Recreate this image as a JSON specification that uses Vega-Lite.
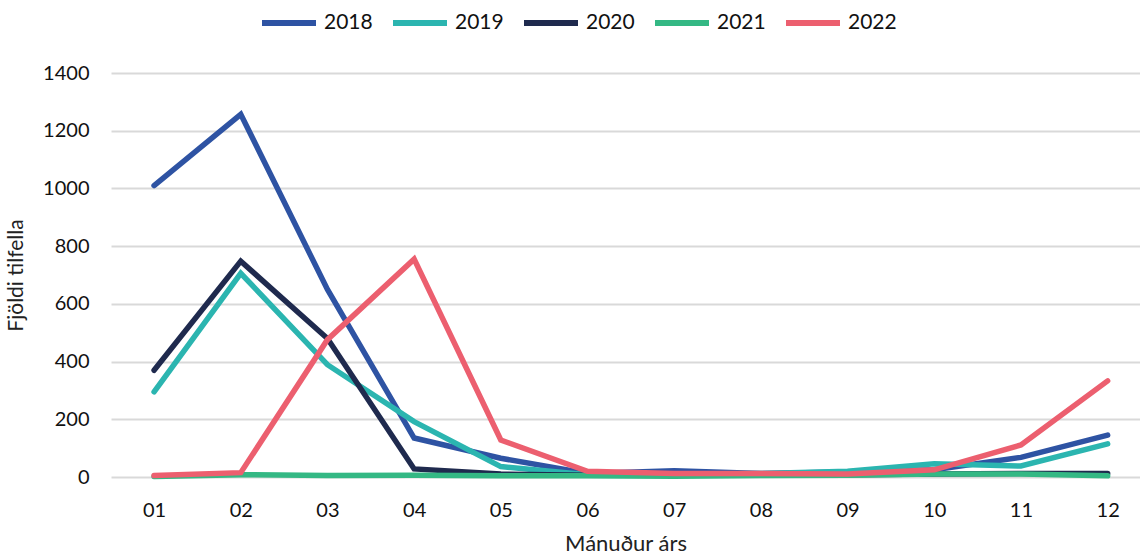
{
  "$schema": "https://vega.github.io/schema/vega-lite/v6.json",
  "width": 1140,
  "height": 554,
  "autosize": {"type": "fit", "contains": "padding"},
  "padding": {"left": 5, "top": 63, "right": 0, "bottom": 0},
  "background": "white",
  "config": {
    "font": "Lato",
    "view": {"stroke": null}
  },
  "data": {
    "values": [
      {"m": "01", "year": "2018", "v": 1010}, {"m": "02", "year": "2018", "v": 1257}, {"m": "03", "year": "2018", "v": 650}, {"m": "04", "year": "2018", "v": 135}, {"m": "05", "year": "2018", "v": 65}, {"m": "06", "year": "2018", "v": 12}, {"m": "07", "year": "2018", "v": 22}, {"m": "08", "year": "2018", "v": 12}, {"m": "09", "year": "2018", "v": 17}, {"m": "10", "year": "2018", "v": 25}, {"m": "11", "year": "2018", "v": 68}, {"m": "12", "year": "2018", "v": 145},
      {"m": "01", "year": "2019", "v": 295}, {"m": "02", "year": "2019", "v": 706}, {"m": "03", "year": "2019", "v": 389}, {"m": "04", "year": "2019", "v": 192}, {"m": "05", "year": "2019", "v": 36}, {"m": "06", "year": "2019", "v": 8}, {"m": "07", "year": "2019", "v": 10}, {"m": "08", "year": "2019", "v": 12}, {"m": "09", "year": "2019", "v": 20}, {"m": "10", "year": "2019", "v": 46}, {"m": "11", "year": "2019", "v": 38}, {"m": "12", "year": "2019", "v": 115},
      {"m": "01", "year": "2020", "v": 370}, {"m": "02", "year": "2020", "v": 748}, {"m": "03", "year": "2020", "v": 480}, {"m": "04", "year": "2020", "v": 28}, {"m": "05", "year": "2020", "v": 10}, {"m": "06", "year": "2020", "v": 6}, {"m": "07", "year": "2020", "v": 6}, {"m": "08", "year": "2020", "v": 6}, {"m": "09", "year": "2020", "v": 8}, {"m": "10", "year": "2020", "v": 10}, {"m": "11", "year": "2020", "v": 12}, {"m": "12", "year": "2020", "v": 12},
      {"m": "01", "year": "2021", "v": 2}, {"m": "02", "year": "2021", "v": 8}, {"m": "03", "year": "2021", "v": 5}, {"m": "04", "year": "2021", "v": 6}, {"m": "05", "year": "2021", "v": 4}, {"m": "06", "year": "2021", "v": 4}, {"m": "07", "year": "2021", "v": 3}, {"m": "08", "year": "2021", "v": 5}, {"m": "09", "year": "2021", "v": 6}, {"m": "10", "year": "2021", "v": 10}, {"m": "11", "year": "2021", "v": 10}, {"m": "12", "year": "2021", "v": 4},
      {"m": "01", "year": "2022", "v": 5}, {"m": "02", "year": "2022", "v": 15}, {"m": "03", "year": "2022", "v": 476}, {"m": "04", "year": "2022", "v": 755}, {"m": "05", "year": "2022", "v": 128}, {"m": "06", "year": "2022", "v": 20}, {"m": "07", "year": "2022", "v": 12}, {"m": "08", "year": "2022", "v": 12}, {"m": "09", "year": "2022", "v": 10}, {"m": "10", "year": "2022", "v": 25}, {"m": "11", "year": "2022", "v": 111}, {"m": "12", "year": "2022", "v": 333}
    ]
  },
  "mark": {"type": "line", "strokeWidth": 5.5, "strokeCap": "round", "strokeJoin": "miter"},
  "encoding": {
    "x": {
      "field": "m", "type": "ordinal",
      "scale": {"type": "point", "padding": 0.435, "align": 0.571},
      "axis": {
        "title": "Mánuður árs", "titleFontSize": 22, "titleFontWeight": "normal", "titleColor": "#222", "titlePadding": 13,
        "labelFontSize": 20, "labelColor": "#111", "labelAngle": 0, "labelPadding": 23,
        "domain": false, "ticks": false, "grid": false
      }
    },
    "y": {
      "field": "v", "type": "quantitative",
      "scale": {"domain": [0, 1400], "nice": false},
      "axis": {
        "title": "Fjöldi tilfella", "titleFontSize": 21, "titleFontWeight": "normal", "titleColor": "#222", "titlePadding": 16,
        "values": [0, 200, 400, 600, 800, 1000, 1200, 1400], "format": "d",
        "labelFontSize": 20, "labelColor": "#111", "labelPadding": 22,
        "domain": false, "ticks": false,
        "grid": true, "gridColor": "#D9D9D9", "gridWidth": 2
      }
    },
    "color": {
      "field": "year", "type": "nominal",
      "scale": {"domain": ["2018", "2019", "2020", "2021", "2022"], "range": ["#2E53A3", "#2BB5B0", "#1F2A4E", "#34B884", "#EC5F6F"]},
      "legend": {
        "title": null, "orient": "none", "direction": "horizontal",
        "legendX": 148, "legendY": -80,
        "symbolType": "stroke", "symbolStrokeWidth": 6, "symbolSize": 2916,
        "labelFontSize": 21, "labelColor": "#111", "columnPadding": 8, "labelOffset": 5
      }
    }
  }
}
